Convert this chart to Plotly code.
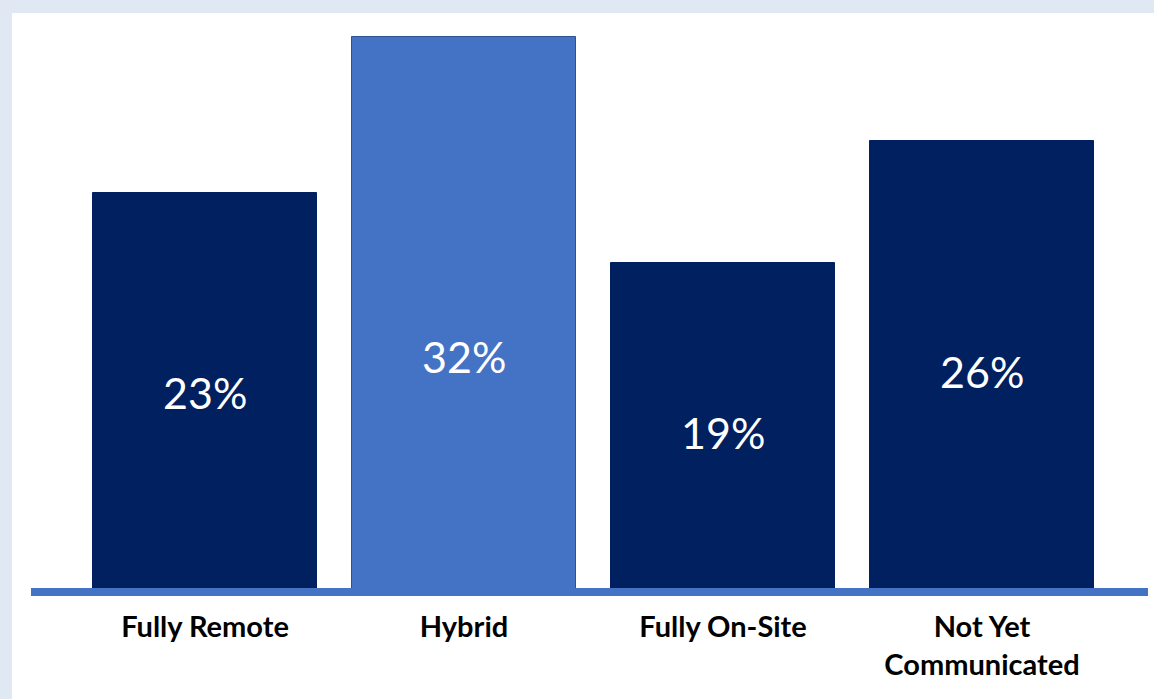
import plotly.graph_objects as go

categories = ["Fully Remote", "Hybrid", "Fully On-Site", "Not Yet<br>Communicated"]
values = [23, 32, 19, 26]
value_labels = ["23%", "32%", "19%", "26%"]

bar_colors = ["#002060", "#4472C4", "#002060", "#002060"]
outline_colors = ["#002060", "#2F528F", "#002060", "#002060"]
label_frac = [0.5, 0.424, 0.483, 0.49]  # vertical placement of value labels within bars

W, H = 1154, 699
plot_bottom_px = 592
px_per_unit = 17.33
x0_px, x_step_px = 205, 259

fig = go.Figure()
fig.add_trace(go.Bar(
    x=list(range(len(categories))),
    y=values,
    width=0.865,
    marker=dict(color=bar_colors, line=dict(color=outline_colors, width=1)),
    hoverinfo="skip",
))

for i, (v, t, f) in enumerate(zip(values, value_labels, label_frac)):
    fig.add_annotation(x=i, y=v * f, xref="x", yref="y", text=t, showarrow=False,
                       font=dict(family="Lato", size=43, color="white"),
                       xanchor="center", yanchor="middle")

# white panel over light blue frame
fig.add_shape(type="rect", xref="paper", yref="paper",
              x0=12 / W, x1=1.01, y0=(plot_bottom_px - H - 5) / plot_bottom_px,
              y1=(plot_bottom_px - 13) / plot_bottom_px,
              fillcolor="white", line=dict(width=0), layer="below")
# baseline
fig.add_shape(type="line", xref="paper", yref="paper",
              x0=31 / W, x1=1148 / W, y0=0, y1=0,
              line=dict(color="#4472C4", width=8), layer="above")

fig.update_layout(
    width=W, height=H,
    margin=dict(l=0, r=0, t=0, b=H - plot_bottom_px, pad=0),
    paper_bgcolor="#DFE8F3",
    plot_bgcolor="rgba(0,0,0,0)",
    showlegend=False,
    bargap=0,
    xaxis=dict(
        range=[-x0_px / x_step_px, (W - x0_px) / x_step_px],
        tickmode="array", tickvals=list(range(len(categories))), ticktext=categories,
        tickfont=dict(family="Lato", size=29, color="black", weight="bold"),
        ticks="outside", ticklen=9, tickcolor="rgba(0,0,0,0)",
        showgrid=False, zeroline=False, showline=False, automargin=False,
        fixedrange=True,
    ),
    yaxis=dict(
        range=[0, plot_bottom_px / px_per_unit],
        visible=False, showgrid=False, zeroline=False, fixedrange=True,
    ),
)

fig.write_html(
    "out.html",
    config={"displayModeBar": False},
    post_script="document.body.style.margin='0';document.body.style.overflow='hidden';",
)
